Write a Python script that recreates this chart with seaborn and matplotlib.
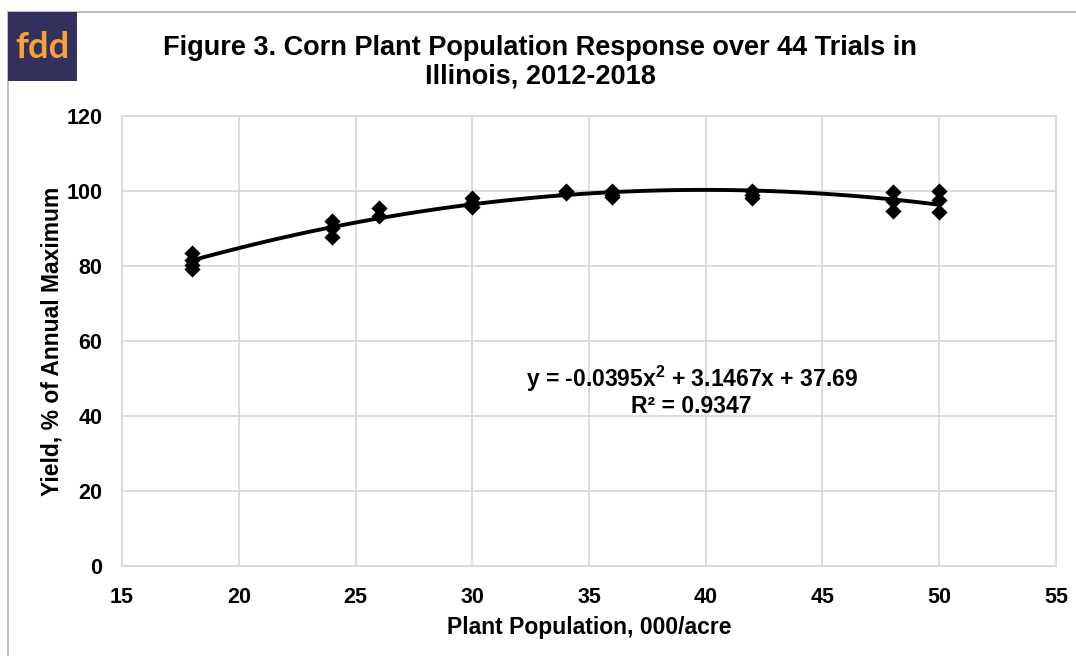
import matplotlib
matplotlib.use("Agg")
import matplotlib.pyplot as plt
import numpy as np
import pandas as pd
import seaborn as sns
from matplotlib.patches import Rectangle

# plant population (000/acre) and yield (% of annual maximum)
population = [18, 18, 18, 18, 24, 24, 24, 26, 26, 30, 30, 30, 34, 34,
              36, 36, 36, 42, 42, 42, 48, 48, 48, 50, 50, 50]
yield_pct = [83.5, 81.5, 80.3, 79.3, 92.0, 90.0, 87.8, 95.5, 93.2, 98.2, 96.8, 95.7, 100.0, 99.5,
             100.0, 99.0, 98.3, 100.0, 99.0, 98.0, 99.8, 97.3, 94.6, 100.0, 97.6, 94.4]

title = "Figure 3. Corn Plant Population Response over 44 Trials in\nIllinois, 2012-2018"
equation = "y = -0.0395x$^{2}$ + 3.1467x + 37.69\nR² = 0.9347"
x_ticks = [15, 20, 25, 30, 35, 40, 45, 50, 55]
y_ticks = [0, 20, 40, 60, 80, 100, 120]

df = pd.DataFrame({"population": population, "yield": yield_pct})

sns.set_style("white")
plt.rcParams["font.family"] = ["Liberation Sans", "DejaVu Sans"]
plt.rcParams["text.color"] = "black"
plt.rcParams["mathtext.fontset"] = "custom"
plt.rcParams["mathtext.rm"] = "Liberation Sans:bold"
plt.rcParams["mathtext.it"] = "Liberation Sans:bold"

fig = plt.figure(figsize=(10.76, 6.56), dpi=100)
ax = fig.add_axes([0.1134, 0.1372, 0.868, 0.686])

grid_color = "#d9d9d9"
sns.regplot(data=df, x="population", y="yield", order=2, ci=None, ax=ax,
            marker="D", color="black",
            scatter_kws={"s": 68, "zorder": 3, "linewidths": 0, "alpha": 1},
            line_kws={"lw": 2.8, "zorder": 2})

ax.set_xlim(15, 55)
ax.set_ylim(0, 120)
ax.set_xticks(x_ticks)
ax.set_yticks(y_ticks)
ax.grid(True, color=grid_color, lw=1.3)
for side in ax.spines.values():
    side.set_color(grid_color)
    side.set_linewidth(1.3)
ax.tick_params(length=0, labelsize=15.5, colors="black")
ax.tick_params(axis="x", pad=15)
ax.tick_params(axis="y", pad=14)
for lbl in ax.get_xticklabels() + ax.get_yticklabels():
    lbl.set_fontweight("bold")

ax.set_xlabel("Plant Population, 000/acre", fontsize=16.5, fontweight="bold",
              color="black", labelpad=6)
ax.set_ylabel("Yield, % of Annual Maximum", fontsize=16.5, fontweight="bold",
              color="black", labelpad=2)

ax.text(39.4, 46.6, equation, ha="center", va="center", fontsize=16.5,
        fontweight="bold", linespacing=1.05)

fig.text(0.502, 0.905, title, ha="center", va="center", fontsize=19.5,
         fontweight="bold", linespacing=1.15)

# outer frame and logo
fig.patches.append(Rectangle((8 / 1076, -0.1), 1.2, (656 - 12) / 656 + 0.1,
                             transform=fig.transFigure, fill=False,
                             edgecolor="#c0c0c0", lw=1.5, zorder=0))
fig.patches.append(Rectangle((8 / 1076, (656 - 81) / 656), 69 / 1076, 69 / 656,
                             transform=fig.transFigure, facecolor="#33305e",
                             edgecolor="none", zorder=1))
fig.text(42.5 / 1076, (656 - 48) / 656, "fdd", ha="center", va="center",
         fontsize=26, fontweight="bold", color="#f7a235", family=["Lato", "DejaVu Sans"])

fig.savefig("out.png", dpi=100)
